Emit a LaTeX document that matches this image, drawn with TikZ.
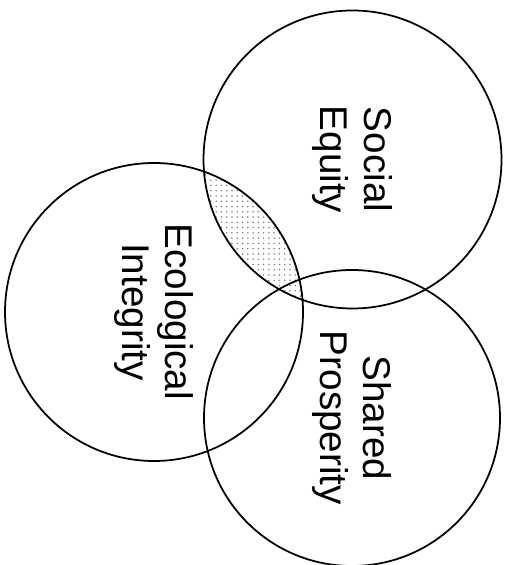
\documentclass[tikz,border=0pt]{standalone}
\usepackage{fontspec}
\setmainfont{Liberation Sans}
\usepackage{tkz-euclide}
\usetikzlibrary{patterns}
\definecolor{ShadeClr}{rgb}{0.5,0.5,0.5}
\tikzset{circtext/.style={rotate=-90,align=center,inner sep=0pt,font=\fontsize{22}{25}\selectfont}}

\begin{document}
\begin{tikzpicture}
\useasboundingbox (0,0) rectangle (10.1,11.3);

\tkzDefPoints{7.05/8.11/S,7.05/11.09/s,3.08/5.06/E,3.08/8.04/e,7.04/2.94/P,7.04/5.90/p}

% overlap of Social and Ecological
\begin{scope}
\tkzClipCircle(S,s)
\tkzFillCircle[pattern=dots,pattern color=ShadeClr](E,e)
\end{scope}

\tkzDrawCircles[line width=1pt,color=black](S,s E,e P,p)

\node[circtext] (social) at (S) {Social\\Equity};
\node[circtext] (ecolog) at (E) {Ecological\\Integrity};
\node[circtext] (shared) at (P) {Shared\\Prosperity};

\end{tikzpicture}
\end{document}
